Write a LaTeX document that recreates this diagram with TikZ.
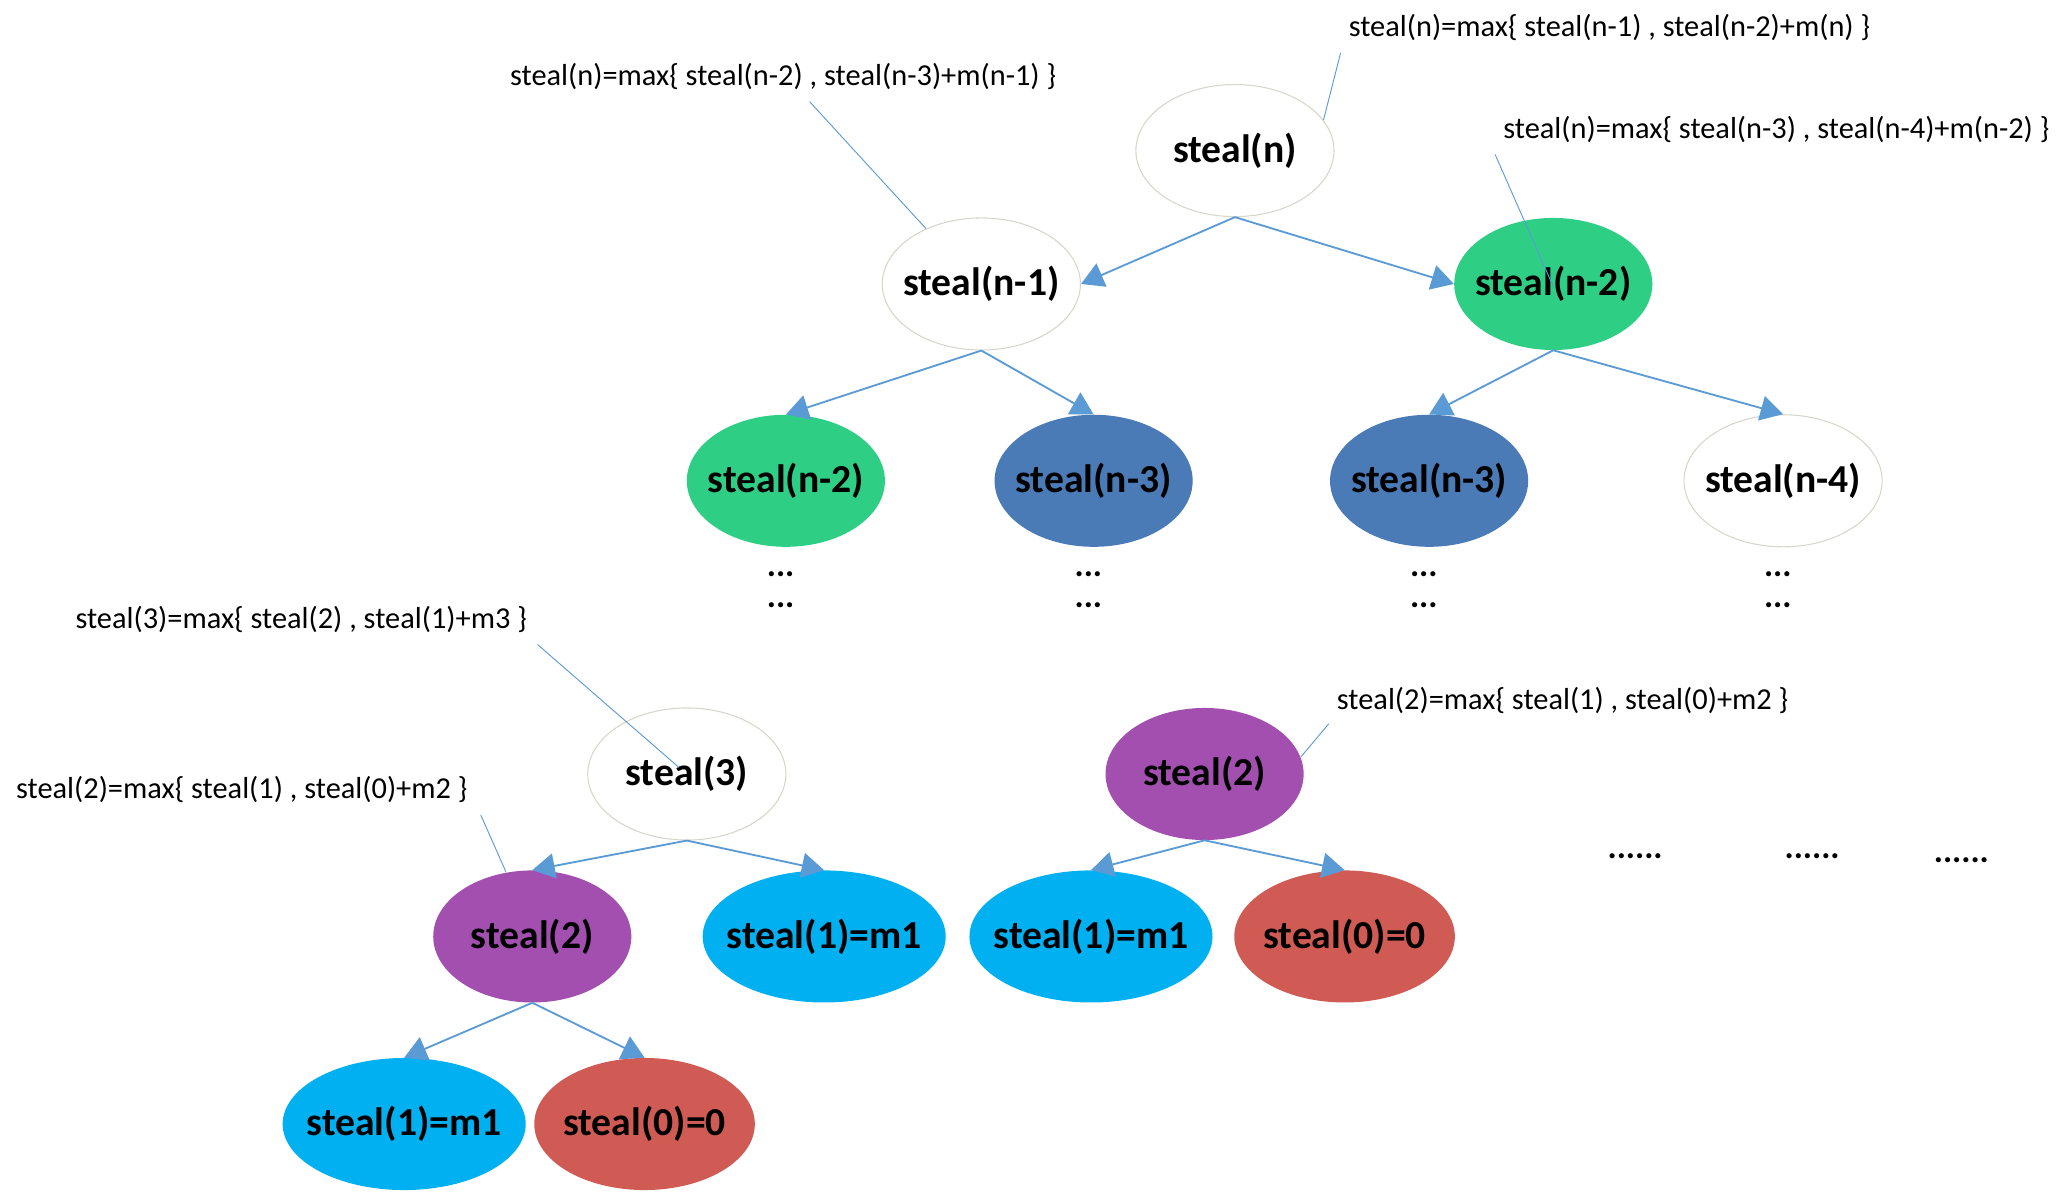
\documentclass[tikz,border=0pt]{standalone}
\usepackage{fontspec}
\setmainfont{Carlito}
\usepackage{tikz}
\usetikzlibrary{shapes.geometric,arrows.meta}

\definecolor{linkblue}{RGB}{91,155,213}
\definecolor{rimgray}{RGB}{214,214,204}
\definecolor{nodegreen}{RGB}{46,207,133}
\definecolor{nodesteel}{RGB}{74,123,183}
\definecolor{nodepurple}{RGB}{162,79,175}
\definecolor{nodecyan}{RGB}{0,176,240}
\definecolor{nodered}{RGB}{208,91,85}

\begin{document}
\begin{tikzpicture}[x=1pt,y=-1pt,
  state/.style={ellipse,minimum width=150pt,minimum height=100pt,
    inner xsep=-40pt,inner ysep=0pt,font=\fontsize{30}{36}\selectfont\bfseries},
  blank/.style={state,draw=rimgray,fill=white,line width=0.8pt},
  green/.style={state,fill=nodegreen},
  steel/.style={state,fill=nodesteel},
  purple/.style={state,fill=nodepurple},
  cyan/.style={state,fill=nodecyan,minimum width=184pt},
  red/.style={state,fill=nodered,minimum width=167pt},
  link/.style={draw=linkblue,line width=1.4pt,-{Triangle[length=17pt,width=19pt]}},
  note/.style={anchor=west,inner sep=0pt,font=\fontsize{23}{28}\selectfont},
  pin/.style={draw=linkblue,line width=0.7pt},
  dots/.style={inner sep=0pt,font=\fontsize{26}{30}\selectfont\bfseries}]
\useasboundingbox (0,0) rectangle (1568,908.5);

% upper tree
\node[blank] (A) at (935,114) {steal(n)};
\node[blank] (B) at (743,215) {steal(n-1)};
\node[green] (C) at (1176,215) {steal(n-2)};
\node[green] (D) at (595,364) {steal(n-2)};
\node[steel] (E) at (828,364) {steal(n-3)};
\node[steel] (F) at (1082,364) {steal(n-3)};
\node[blank] (G) at (1350,364) {steal(n-4)};

\draw[link] (A.south) -- (B.east);
\draw[link] (A.south) -- (C.west);
\draw[link] (B.south) -- (D.north);
\draw[link] (B.south) -- (E.north);
\draw[link] (C.south) -- (F.north);
\draw[link] (C.south) -- (G.north);

\foreach \x/\n in {591/D, 824/E, 1078/F, 1346/G} {
  \node[dots] (\n1) at (\x,435) {...};
  \node[dots] (\n2) at (\x,458) {...};
}

% notes of the upper tree
\node[note] (NA) at (1021,21) {steal(n)=max\{ steal(n-1) , steal(n-2)+m(n) \}};
\node[note] (NB) at (386,58) {steal(n)=max\{ steal(n-2) , steal(n-3)+m(n-1) \}};
\node[note] (NC) at (1138,98) {steal(n)=max\{ steal(n-3) , steal(n-4)+m(n-2) \}};
\coordinate (PA) at (1015,40);
\coordinate (PB) at (613,77);
\coordinate (PC) at (1132,117);
\coordinate (QC) at (1176,217);
\draw[pin] (PA) -- (A.19);
\draw[pin] (PB) -- (B.135);
\draw[pin] (PC) -- (QC);

% lower trees
\node[blank] (H) at (520,586) {steal(3)};
\node[purple] (I) at (403,709) {steal(2)};
\node[cyan] (J) at (624,709) {steal(1)=m1};
\node[cyan] (K) at (306,851) {steal(1)=m1};
\node[red] (L) at (488,851) {steal(0)=0};

\node[purple] (M) at (912,586) {steal(2)};
\node[cyan] (N) at (826,709) {steal(1)=m1};
\node[red] (O) at (1018,709) {steal(0)=0};

\draw[link] (H.south) -- (I.north);
\draw[link] (H.south) -- (J.north);
\draw[link] (I.south) -- (K.north);
\draw[link] (I.south) -- (L.north);
\draw[link] (M.south) -- (N.north);
\draw[link] (M.south) -- (O.north);

\node[dots] (R1) at (1238,648) {......};
\node[dots] (R2) at (1372,648) {......};
\node[dots] (R3) at (1485,651) {......};

% notes of the lower trees
\node[note] (NH) at (57,469) {steal(3)=max\{ steal(2) , steal(1)+m3 \}};
\node[note] (NI) at (12,598) {steal(2)=max\{ steal(1) , steal(0)+m2 \}};
\node[note] (NM) at (1012,530) {steal(2)=max\{ steal(1) , steal(0)+m2 \}};
\coordinate (PH) at (407,488);
\coordinate (QH) at (514,581);
\coordinate (PI) at (364,617);
\coordinate (QI) at (383,660);
\coordinate (PM) at (1006,548);
\coordinate (QM) at (985,573);
\draw[pin] (PH) -- (QH);
\draw[pin] (PI) -- (QI);
\draw[pin] (PM) -- (QM);
\end{tikzpicture}
\end{document}
